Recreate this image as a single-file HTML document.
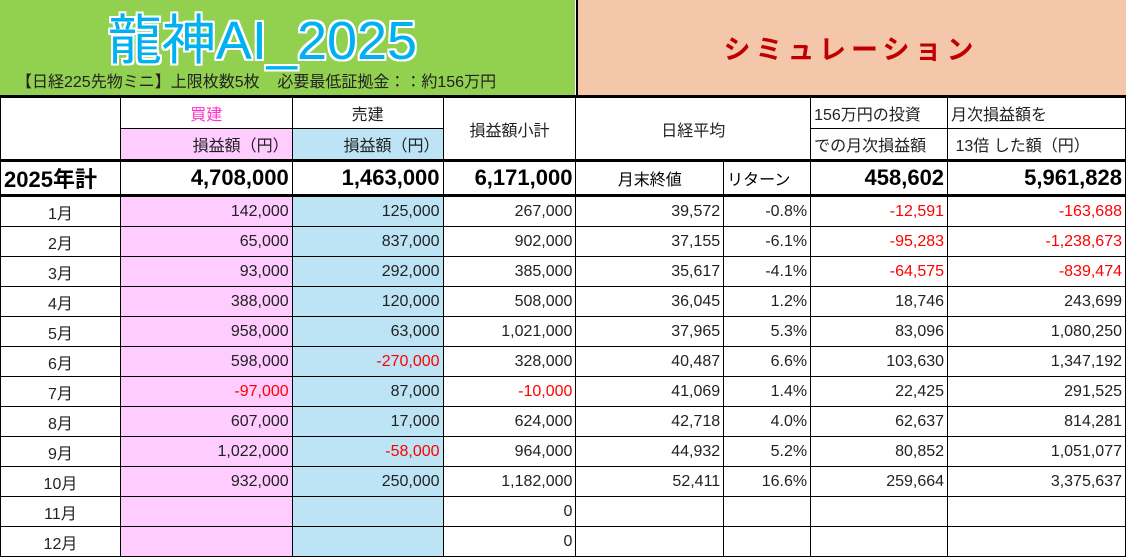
<!DOCTYPE html>
<html><head><meta charset="utf-8"><style>
body{margin:0;width:1126px;height:557px;background:#fff;overflow:hidden;font-family:"Liberation Sans","Noto Sans CJK JP",sans-serif;}
.ban{position:absolute;top:0;height:95px;}
#g{left:0;width:575px;background:#92d050;}
#s{left:576px;width:550px;background:#f4c7ab;border-left:2px solid #000;}
#t{position:absolute;left:0;width:525px;top:-4px;text-align:center;font-size:54px;color:#00b0f0;text-shadow:2px 0 #fff,-2px 0 #fff,0 2px #fff,0 -2px #fff,2px 2px #fff,-2px -2px #fff,2px -2px #fff,-2px 2px #fff;font-family:"Liberation Sans","Noto Sans CJK JP",sans-serif;}
#sub{position:absolute;left:16px;top:68px;font-size:16px;color:#222;white-space:pre;}
#sim{position:absolute;left:576px;width:550px;top:28px;text-align:center;font-size:27px;font-weight:bold;color:#c00000;letter-spacing:5px;}
table{position:absolute;left:0;top:95px;border-collapse:collapse;table-layout:fixed;font-size:16px;color:#222;}
td{border:1px solid #000;padding:0 3px;text-align:right;height:29px;white-space:nowrap;overflow:hidden;}
tr.h td{height:30px;}
td.c{text-align:center}
.p{background:#ffccff}.b{background:#bde4f4}
.r{color:#ff0000}
tr.tot td{font-weight:bold;font-size:22px;height:32px;border-top:3px solid #000;border-bottom:3px solid #000;color:#000;}
</style></head><body>
<div class="ban" id="g"></div><div class="ban" id="s"></div>
<div id="t">龍神AI_2025</div>
<div id="sub">【日経225先物ミニ】上限枚数5枚    必要最低証拠金：：約156万円</div>
<div id="sim">シミュレーション</div>
<table>
<colgroup><col style="width:120px"><col style="width:172px"><col style="width:151px"><col style="width:133px"><col style="width:148px"><col style="width:87px"><col style="width:137px"><col style="width:178px"></colgroup>
<tr class="h" style="border-top:3px solid #000"><td rowspan="2"></td><td class="c" style="color:#ff33cc">買建</td><td class="c">売建</td><td rowspan="2" class="c">損益額小計</td><td colspan="2" rowspan="2" class="c">日経平均</td><td style="text-align:left">156万円の投資</td><td style="text-align:left">月次損益額を</td></tr>
<tr class="h"><td class="p">損益額（円）</td><td class="b">損益額（円）</td><td style="text-align:left">での月次損益額</td><td style="text-align:left">&nbsp;13倍 した額（円）</td></tr>
<tr class="tot"><td style="text-align:left">2025年計</td><td>4,708,000</td><td>1,463,000</td><td>6,171,000</td><td class="c" style="font-weight:normal;font-size:16px">月末終値</td><td style="font-weight:normal;font-size:16px;text-align:left">リターン</td><td>458,602</td><td>5,961,828</td></tr>
<tr><td class="c">1月</td><td class="p">142,000</td><td class="b">125,000</td><td>267,000</td><td>39,572</td><td>-0.8%</td><td class="r">-12,591</td><td class="r">-163,688</td></tr>
<tr><td class="c">2月</td><td class="p">65,000</td><td class="b">837,000</td><td>902,000</td><td>37,155</td><td>-6.1%</td><td class="r">-95,283</td><td class="r">-1,238,673</td></tr>
<tr><td class="c">3月</td><td class="p">93,000</td><td class="b">292,000</td><td>385,000</td><td>35,617</td><td>-4.1%</td><td class="r">-64,575</td><td class="r">-839,474</td></tr>
<tr><td class="c">4月</td><td class="p">388,000</td><td class="b">120,000</td><td>508,000</td><td>36,045</td><td>1.2%</td><td>18,746</td><td>243,699</td></tr>
<tr><td class="c">5月</td><td class="p">958,000</td><td class="b">63,000</td><td>1,021,000</td><td>37,965</td><td>5.3%</td><td>83,096</td><td>1,080,250</td></tr>
<tr><td class="c">6月</td><td class="p">598,000</td><td class="b r">-270,000</td><td>328,000</td><td>40,487</td><td>6.6%</td><td>103,630</td><td>1,347,192</td></tr>
<tr><td class="c">7月</td><td class="p r">-97,000</td><td class="b">87,000</td><td class="r">-10,000</td><td>41,069</td><td>1.4%</td><td>22,425</td><td>291,525</td></tr>
<tr><td class="c">8月</td><td class="p">607,000</td><td class="b">17,000</td><td>624,000</td><td>42,718</td><td>4.0%</td><td>62,637</td><td>814,281</td></tr>
<tr><td class="c">9月</td><td class="p">1,022,000</td><td class="b r">-58,000</td><td>964,000</td><td>44,932</td><td>5.2%</td><td>80,852</td><td>1,051,077</td></tr>
<tr><td class="c">10月</td><td class="p">932,000</td><td class="b">250,000</td><td>1,182,000</td><td>52,411</td><td>16.6%</td><td>259,664</td><td>3,375,637</td></tr>
<tr><td class="c">11月</td><td class="p"></td><td class="b"></td><td>0</td><td></td><td></td><td></td><td></td></tr>
<tr><td class="c">12月</td><td class="p"></td><td class="b"></td><td>0</td><td></td><td></td><td></td><td></td></tr>
</table>
</body></html>
